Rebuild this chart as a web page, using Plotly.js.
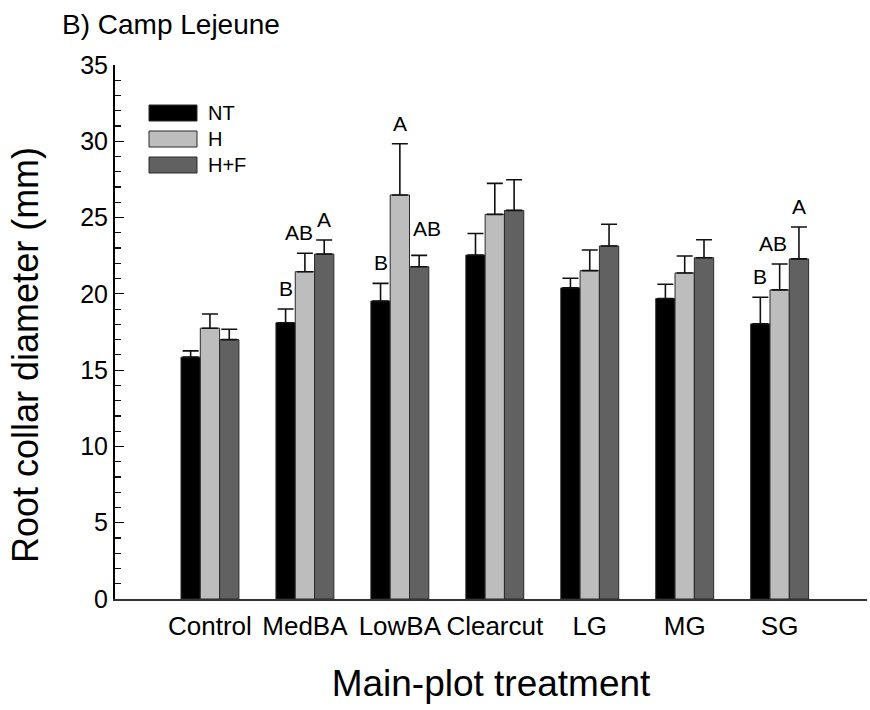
<!DOCTYPE html>
<html>
<head>
<meta charset="utf-8">
<script src="https://cdn.plot.ly/plotly-3.0.1.min.js"></script>
<style>html,body{margin:0;padding:0;background:#fff;}#chart{width:870px;height:710px;}</style>
</head>
<body>
<div id="chart"></div>
<script>
// ---- data ----
const categories = ['Control', 'MedBA', 'LowBA', 'Clearcut', 'LG', 'MG', 'SG'];
const seriesNames = ['NT', 'H', 'H+F'];
const ntMean  = [15.85, 18.11, 19.53, 22.54, 20.39, 19.69, 18.03];
const ntErr   = [0.41, 0.90, 1.16, 1.42, 0.63, 0.94, 1.75];
const hMean   = [17.75, 21.45, 26.48, 25.21, 21.52, 21.37, 20.26];
const hErr    = [0.93, 1.21, 3.36, 2.03, 1.35, 1.11, 1.70];
const hfMean  = [17.00, 22.61, 21.78, 25.47, 23.14, 22.37, 22.29];
const hfErr   = [0.68, 0.92, 0.74, 2.01, 1.42, 1.18, 2.09];
const ntLetters = ['', 'B', 'B', '', '', '', 'B'];
const hLetters  = ['', 'AB', 'A', '', '', '', 'AB'];
const hfLetters = ['', 'A', 'AB', '', '', '', 'A'];
const yTitle = 'Root collar diameter (mm)';
const xTitle = 'Main-plot treatment';
const chartTitle = 'B) Camp Lejeune';

// ---- styles ----
const FONT = 'Liberation Sans, Arial, sans-serif';
const colors = ['#000000', '#bdbdbd', '#616161'];
const means = [ntMean, hMean, hfMean];
const errs = [ntErr, hErr, hfErr];
const letters = [ntLetters, hLetters, hfLetters];
const bargap = 0.39;
const barW = (1 - bargap) / 3;
// small pixel nudges for letter labels keyed "series-category"
const nudges = { '1-1': [-6, 0], '1-6': [-7, 0], '2-2': [8, 6] };

const traces = seriesNames.map((name, j) => ({
  type: 'bar', name: name, x: categories, y: means[j],
  marker: { color: colors[j], line: { color: '#2a2a2a', width: 1 } },
  error_y: { type: 'data', symmetric: false, array: errs[j], arrayminus: errs[j].map(() => 0),
             color: '#111', thickness: 1.6, width: 8 },
  showlegend: false, hoverinfo: 'skip'
}));

const annotations = [];
letters.forEach((arr, j) => {
  arr.forEach((t, i) => {
    if (!t) return;
    const n = nudges[j + '-' + i] || [0, 0];
    annotations.push({
      x: i + (j - 1) * barW, y: means[j][i] + errs[j][i], xref: 'x', yref: 'y',
      text: t, showarrow: false, xanchor: 'center', yanchor: 'bottom',
      xshift: n[0], yshift: 7 + n[1], font: { family: FONT, size: 21, color: '#000' }
    });
  });
});

// plot area in pixels
const L = 115, R = 867, T = 65, B = 599;
const px = v => (v - L) / (R - L);
const py = v => (B - v) / (B - T);

// custom legend
const shapes = [];
const legTop = [105, 131, 157];
seriesNames.forEach((name, j) => {
  shapes.push({ type: 'rect', xref: 'paper', yref: 'paper',
    x0: px(149), x1: px(197), y0: py(legTop[j] + 16), y1: py(legTop[j]),
    fillcolor: colors[j], line: { color: '#2a2a2a', width: 1 } });
  annotations.push({ xref: 'paper', yref: 'paper', x: px(206), y: py(legTop[j] + 8),
    xanchor: 'left', yanchor: 'middle', text: name, showarrow: false,
    font: { family: FONT, size: 20, color: '#000' } });
});

// y-axis title placed as rotated annotation (slightly below plot centre, as in reference)
annotations.push({ xref: 'paper', yref: 'paper', x: px(25), y: py(355),
  xanchor: 'center', yanchor: 'middle', textangle: -90, text: yTitle, showarrow: false,
  font: { family: FONT, size: 36, color: '#000' } });

const layout = {
  width: 870, height: 710,
  paper_bgcolor: '#fff', plot_bgcolor: '#fff',
  margin: { l: L, r: 870 - R, t: T, b: 710 - B },
  barmode: 'group', bargap: bargap, bargroupgap: 0,
  showlegend: false,
  title: { text: chartTitle, xref: 'container', yref: 'container',
           x: 62 / 870, xanchor: 'left', y: 1 - 24 / 710, yanchor: 'middle',
           font: { family: FONT, size: 28, color: '#000' } },
  xaxis: {
    type: 'category', categoryorder: 'array', categoryarray: categories,
    range: [-1, 6.92], showgrid: false, zeroline: false,
    showline: true, linecolor: '#333', linewidth: 1.5,
    ticks: '', tickfont: { family: FONT, size: 26, color: '#000' },
    ticklabelstandoff: 3,
    title: { text: xTitle, font: { family: FONT, size: 37, color: '#000' }, standoff: 30 }
  },
  xaxis2: {
    overlaying: 'x', side: 'top', anchor: 'y', range: [-1, 6.92],
    tickvals: categories.map((c, i) => i), showticklabels: false,
    ticks: 'inside', ticklen: 10, tickcolor: '#000', tickwidth: 1,
    showline: true, linecolor: '#000', linewidth: 1.5, showgrid: false, zeroline: false
  },
  yaxis: {
    range: [0, 35], dtick: 5, showgrid: false, zeroline: false,
    showline: true, linecolor: '#000', linewidth: 2,
    ticks: 'inside', ticklen: 9, tickwidth: 1.2, tickcolor: '#000',
    minor: { ticks: 'inside', dtick: 1, ticklen: 6, tickcolor: '#111', tickwidth: 1.2 },
    tickfont: { family: FONT, size: 25, color: '#000' }
  },
  yaxis2: {
    overlaying: 'y', side: 'right', anchor: 'x', range: [0, 35], dtick: 5,
    showticklabels: false, ticks: 'inside', ticklen: 6, tickcolor: '#ccc',
    showline: true, linecolor: '#e2e2e2', linewidth: 1, showgrid: false, zeroline: false
  },
  shapes: shapes,
  annotations: annotations
};

Plotly.newPlot('chart', traces, layout, { staticPlot: true, displayModeBar: false });
</script>
</body>
</html>
